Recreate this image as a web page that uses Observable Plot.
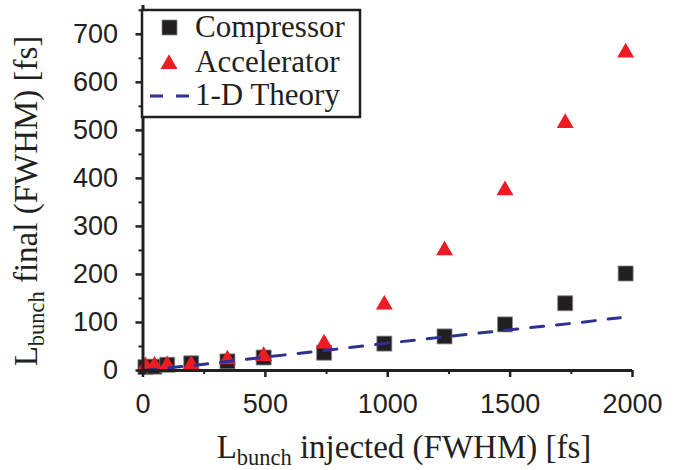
<!DOCTYPE html>
<html><head><meta charset="utf-8">
<script src="https://cdn.jsdelivr.net/npm/d3@7"></script>
<script src="https://cdn.jsdelivr.net/npm/@observablehq/plot@0.6"></script>
<style>body{margin:0;background:#fff;}</style>
</head><body><div id="chart"></div>
<script>
// Data
const injected    = [10, 47, 99, 197, 345, 493, 740, 986, 1232, 1479, 1725, 1972];
const compressor  = [7, 8, 12, 15, 19, 27, 37, 56, 71, 96, 140, 202];
const accelerator = [9, 10, 11, 12, 23, 30, 56, 137, 250, 375, 515, 662];
const theoryX = [0, 250, 500, 750, 1000, 1250, 1500, 1750, 1950];
const theoryY = [0, 13, 28, 42, 57, 71, 85, 98, 110];
const xTicks = [0, 500, 1000, 1500, 2000];
const xMinor = [250, 750, 1250, 1750];
const yTicks = [0, 100, 200, 300, 400, 500, 600, 700];
const yMinor = [50, 150, 250, 350, 450, 550, 650, 750];
const seriesNames = ["Compressor", "Accelerator", "1-D Theory"];

const comp = injected.map((x, i) => ({x, y: compressor[i]}));
const acc = injected.map((x, i) => ({x, y: accelerator[i]}));
const theory = theoryX.map((x, i) => ({x, y: theoryY[i]}));

const ink = "#231f20";
const red = "#ed1c24";
const blue = "#2e3192";
const fmt = d3.format("d");

const plot = Plot.plot({
  width: 678, height: 470,
  marginLeft: 142.5, marginRight: 46, marginTop: 5, marginBottom: 100,
  x: {domain: [0, 2000]},
  y: {domain: [0, 760]},
  style: {fontFamily: "'Liberation Sans', Arial, sans-serif", color: ink, background: "white"},
  marks: [
    Plot.dot(comp, {x: "x", y: "y", symbol: "square", r: 8.46, fill: ink, stroke: "#888", strokeWidth: 0.8}),
    Plot.dot(acc, {x: "x", y: "y", symbol: "triangle", r: 6.3, fill: red}),
    Plot.line(theory, {x: "x", y: "y", stroke: blue, strokeWidth: 3, strokeDasharray: "13,13"}),
    Plot.axisX(xTicks, {tickSize: 7, tickPadding: 16, fontSize: 27, strokeWidth: 2.5, label: null, stroke: ink, tickFormat: fmt}),
    Plot.axisX(xMinor, {tickSize: 4, text: null, strokeWidth: 2, label: null, stroke: ink}),
    Plot.axisY(yTicks, {tickSize: 7, tickPadding: 18, fontSize: 27, strokeWidth: 2.5, label: null, stroke: ink, tickFormat: fmt}),
    Plot.axisY(yMinor, {tickSize: 4, text: null, strokeWidth: 2, label: null, stroke: ink}),
    Plot.ruleX([0], {stroke: ink, strokeWidth: 3}),
    Plot.ruleY([0], {stroke: ink, strokeWidth: 3})
  ]
});
document.getElementById("chart").appendChild(plot);

const svg = d3.select(plot);
const serif = "'Liberation Serif', 'Times New Roman', serif";

function titleWithSub(g, main1, sub, rest, size) {
  const t = g.append("text").attr("font-family", serif).attr("font-size", size).attr("fill", ink).attr("text-anchor", "middle");
  t.append("tspan").text(main1);
  t.append("tspan").attr("font-size", size * 0.68).attr("dy", size * 0.22).text(sub);
  t.append("tspan").attr("dy", -size * 0.22).text(" " + rest);
  return t;
}
// X title
titleWithSub(svg.append("g").attr("transform", "translate(404,458)"), "L", "bunch", "injected (FWHM) [fs]", 33);
// Y title
titleWithSub(svg.append("g").attr("transform", "translate(37,201) rotate(-90)"), "L", "bunch", "final (FWHM) [fs]", 33);

// Legend
const lg = svg.append("g");
lg.append("rect").attr("x", 142).attr("y", 10).attr("width", 218).attr("height", 107)
  .attr("fill", "white").attr("stroke", ink).attr("stroke-width", 2.5);
lg.append("path").attr("transform", "translate(169.5,27.5)")
  .attr("d", d3.symbol(d3.symbolSquare, 225)()).attr("fill", ink).attr("stroke", "#888").attr("stroke-width", 0.8);
lg.append("path").attr("transform", "translate(169,64)")
  .attr("d", d3.symbol(d3.symbolTriangle, 125)()).attr("fill", red);
lg.append("line").attr("x1", 150).attr("x2", 189).attr("y1", 96).attr("y2", 96)
  .attr("stroke", blue).attr("stroke-width", 3).attr("stroke-dasharray", "13,13");
const ys = [37, 72, 105];
seriesNames.forEach((n, i) => {
  lg.append("text").attr("x", 195).attr("y", ys[i]).attr("font-family", serif)
    .attr("text-anchor", "start").attr("font-size", 31).attr("fill", ink).text(n);
});
</script>
</body></html>
